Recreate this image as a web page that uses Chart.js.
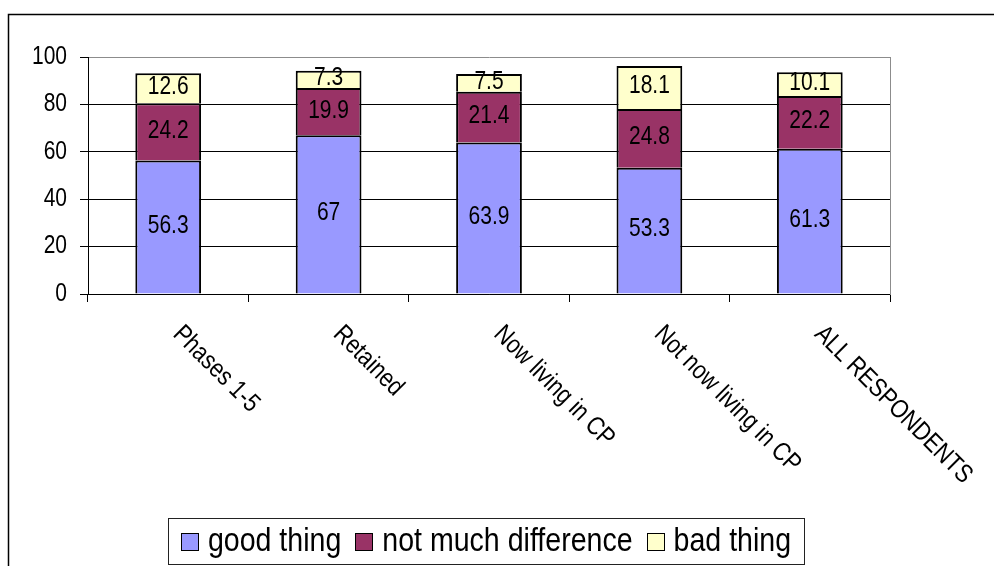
<!DOCTYPE html>
<html>
<head>
<meta charset="utf-8">
<script src="https://cdn.jsdelivr.net/npm/chart.js@4.4.1/dist/chart.umd.min.js"></script>
<style>
    html, body { margin: 0; padding: 0; background: #fff; }
    #wrap { width: 994px; height: 566px; }
</style>
</head>
<body>
<div id="wrap"><canvas id="bar"></canvas></div>
<script>
const categories = ['Phases 1-5', 'Retained', 'Now living in CP', 'Not now living in CP', 'ALL RESPONDENTS'];
const seriesNames = ['good thing', 'not much difference', 'bad thing'];
const goodThing = [56.3, 67, 63.9, 53.3, 61.3];
const notMuchDifference = [24.2, 19.9, 21.4, 24.8, 22.2];
const badThing = [12.6, 7.3, 7.5, 18.1, 10.1];
const yTicks = [0, 20, 40, 60, 80, 100];

const fontFamily = '"Liberation Sans", Arial, sans-serif';
// all text in this chart is horizontally condensed
const squeeze = 0.84;

function narrowText(ctx, text, x, y) {
    ctx.save();
    ctx.translate(x, y);
    ctx.scale(squeeze, 1);
    ctx.fillText(text, 0, 0);
    ctx.restore();
}

// outer frame lines (top and left edge of the chart object)
const framePlugin = {
    id: 'frame',
    beforeDraw(chart) {
        const ctx = chart.ctx;
        ctx.save();
        ctx.fillStyle = '#fff';
        ctx.fillRect(0, 0, chart.width, chart.height);
        ctx.strokeStyle = '#000';
        ctx.lineWidth = 1.5;
        ctx.beginPath();
        ctx.moveTo(8.5, chart.height);
        ctx.lineTo(8.5, 14.5);
        ctx.lineTo(chart.width, 14.5);
        ctx.stroke();
        ctx.restore();
    }
};

// y tick numbers, drawn condensed at the scale's tick positions
const yLabels = {
    id: 'yLabels',
    afterDraw(chart) {
        const ys = chart.scales.y;
        const ctx = chart.ctx;
        ctx.save();
        ctx.font = '25px ' + fontFamily;
        ctx.fillStyle = '#000';
        ctx.textAlign = 'right';
        ctx.textBaseline = 'middle';
        ys.ticks.forEach(t => {
            narrowText(ctx, String(t.value), ys.right - 21, ys.getPixelForValue(t.value));
        });
        ctx.restore();
    }
};

// value printed in the middle of each stacked segment
const valueLabels = {
    id: 'valueLabels',
    afterDatasetsDraw(chart) {
        const ctx = chart.ctx;
        ctx.save();
        ctx.font = '25px ' + fontFamily;
        ctx.fillStyle = '#000';
        ctx.textAlign = 'center';
        ctx.textBaseline = 'middle';
        chart.data.datasets.forEach((ds, di) => {
            chart.getDatasetMeta(di).data.forEach((bar, i) => {
                narrowText(ctx, String(ds.data[i]), bar.x, (bar.y + bar.base) / 2 - 1);
            });
        });
        ctx.restore();
    }
};

// slanted category names under the x axis
const categoryLabels = {
    id: 'categoryLabels',
    afterDraw(chart) {
        const xs = chart.scales.x;
        const ctx = chart.ctx;
        ctx.save();
        ctx.font = '26px ' + fontFamily;
        ctx.fillStyle = '#000';
        ctx.textAlign = 'left';
        ctx.textBaseline = 'top';
        categories.forEach((name, i) => {
            ctx.save();
            ctx.translate(xs.getPixelForTick(i) + 18, xs.top + 27);
            ctx.rotate(Math.PI / 4);
            ctx.scale(squeeze, 1);
            ctx.fillText(name, 0, 0);
            ctx.restore();
        });
        ctx.restore();
    }
};

// framed legend centred under the chart
const legendBox = {
    id: 'legendBox',
    afterDraw(chart) {
        const ctx = chart.ctx;
        const box = 17, gapText = 10, gapItem = 14, pad = 13;
        const midY = 541, top = 518.5, bottom = 564.5, centre = 486;
        ctx.save();
        ctx.font = '34px ' + fontFamily;
        const items = chart.data.datasets.map(ds => ({
            text: ds.label,
            color: ds.backgroundColor,
            w: ctx.measureText(ds.label).width * squeeze
        }));
        let total = 0;
        items.forEach((it, i) => {
            total += box + gapText + it.w + (i < items.length - 1 ? gapItem : 0);
        });
        const left = Math.round(centre - total / 2 - pad) + 0.5;
        const right = Math.round(centre + total / 2 + pad) + 0.5;
        ctx.strokeStyle = '#222';
        ctx.lineWidth = 1;
        ctx.strokeRect(left, top, right - left, bottom - top);

        let x = centre - total / 2;
        ctx.textAlign = 'left';
        ctx.textBaseline = 'middle';
        items.forEach(it => {
            const bx = Math.round(x) + 0.5;
            const by = Math.round(midY - box / 2) + 0.5;
            ctx.fillStyle = it.color;
            ctx.fillRect(bx, by, box, box);
            ctx.strokeStyle = '#000';
            ctx.strokeRect(bx, by, box, box);
            ctx.fillStyle = '#000';
            narrowText(ctx, it.text, x + box + gapText, midY + 1);
            x += box + gapText + it.w + gapItem;
        });
        ctx.restore();
    }
};

const ctx = document.getElementById('bar').getContext('2d');
const chart = new Chart(ctx, {
    type: 'bar',
    data: {
        labels: categories,
        datasets: [
            {
                label: seriesNames[0],
                data: goodThing,
                backgroundColor: '#9999FF',
            },
            {
                label: seriesNames[1],
                data: notMuchDifference,
                backgroundColor: '#993366',
            },
            {
                label: seriesNames[2],
                data: badThing,
                backgroundColor: '#FFFFCC',
            },
        ]
    },
    options: {
        responsive: true,
        maintainAspectRatio: false,
        animation: false,
        datasets: {
            bar: {
                borderColor: '#000',
                borderWidth: 2,
                categoryPercentage: 1,
                barPercentage: 0.41,
            }
        },
        layout: {
            padding: { top: 57, left: 0, right: 20, bottom: 50 }
        },
        scales: {
            x: {
                stacked: true,
                ticks: { display: false },
                grid: {
                    offset: true,
                    drawOnChartArea: false,
                    tickLength: 8,
                    color: '#000'
                },
                border: { color: '#000', width: 1 },
                afterFit: (s) => { s.height = 222; }
            },
            y: {
                stacked: true,
                min: 0,
                max: 100,
                afterBuildTicks: (s) => { s.ticks = yTicks.map(v => ({ value: v })); },
                ticks: { display: false },
                grid: {
                    color: (c) => (c.tick && c.tick.value === 100 ? '#8c8c8c' : '#000'),
                    tickColor: '#000',
                    tickLength: 8
                },
                border: { color: '#000', width: 1 },
                afterFit: (s) => { s.width = 88; }
            },
            yRight: {
                position: 'right',
                min: 0,
                max: 100,
                ticks: { display: false },
                grid: { display: false },
                border: { color: '#8c8c8c', width: 1 },
                afterFit: (s) => { s.width = 84; }
            }
        },
        plugins: {
            legend: { display: false },
            tooltip: { enabled: false }
        }
    },
    plugins: [framePlugin, yLabels, valueLabels, categoryLabels, legendBox]
});
</script>
</body>
</html>
